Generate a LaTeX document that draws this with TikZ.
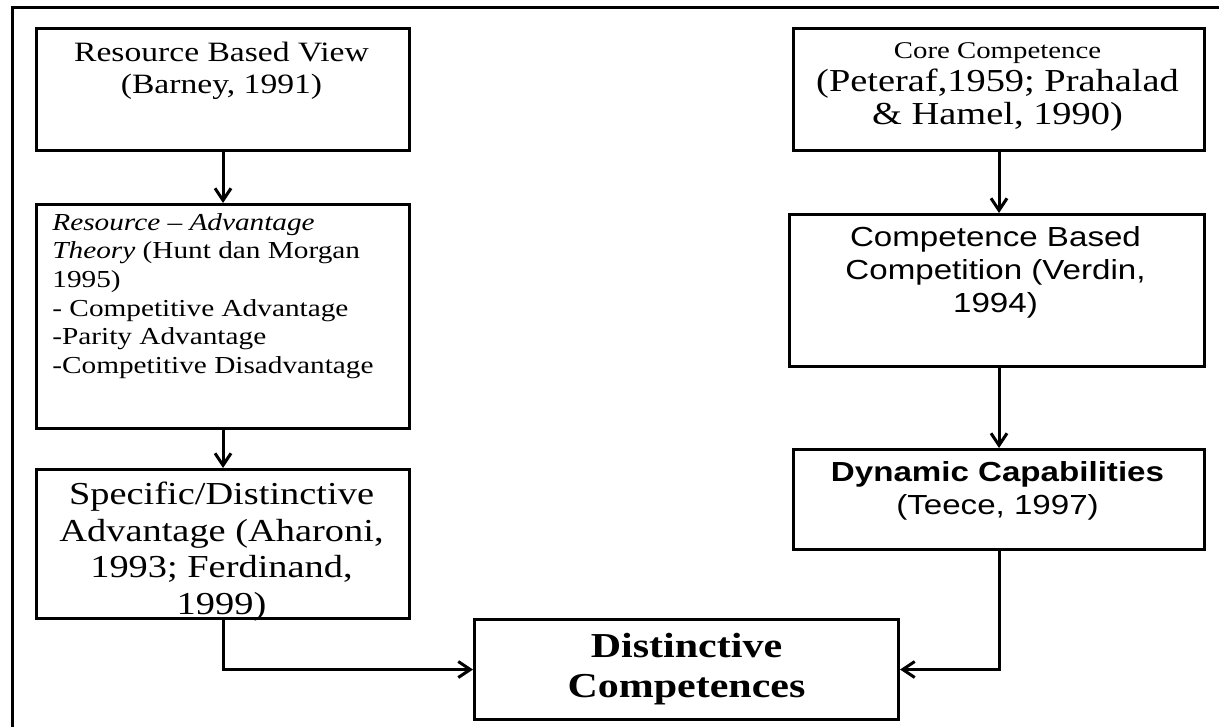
\documentclass[tikz,border=0pt]{standalone}
\usepackage{fontspec}
\setmainfont[FakeStretch=1.2]{Liberation Serif}
\setsansfont[FakeStretch=1.2]{Liberation Sans}
\usetikzlibrary{arrows.meta}
\begin{document}
\begin{tikzpicture}[x=0.5pt,y=-0.5pt,
  box/.style={draw, line width=1.5pt, rectangle, anchor=north west, inner sep=0pt},
  txt/.style={inner sep=0pt, align=center},
  arr/.style={line width=1.5pt, -{Straight Barb[length=6pt,width=8pt]}},
]
\useasboundingbox (0,0) rectangle (1219,727);
\clip (0,0) rectangle (1219,727);
\draw[line width=1.5pt] (12,8) rectangle (1260,760);

% boxes
\node[box, minimum width=186.5pt, minimum height=61pt] (rbv) at (35,27) {};
\node[box, minimum width=186.5pt, minimum height=112pt] (ra) at (35,203) {};
\node[box, minimum width=186.5pt, minimum height=74.5pt] (spec) at (35,468) {};
\node[box, minimum width=205.5pt, minimum height=61pt] (core) at (792,27) {};
\node[box, minimum width=207.5pt, minimum height=76pt] (cbc) at (788,213) {};
\node[box, minimum width=205.5pt, minimum height=50pt] (dyn) at (792,448) {};
\node[box, minimum width=212pt, minimum height=50pt] (dist) at (473,618) {};

% texts
\node[txt, anchor=north, font=\fontsize{14}{16}\selectfont] (rbvt) at (221.5,42)
  {Resource Based View\\(Barney, 1991)};
\node[txt, align=left, anchor=north west, font=\fontsize{12.2}{14.3}\selectfont] (rat) at (52,213)
  {\textit{Resource -- Advantage}\\\textit{Theory} (Hunt dan Morgan\\1995)\\- Competitive Advantage\\-Parity Advantage\\-Competitive Disadvantage};
\node[txt, anchor=north, font=\fontsize{16}{18.25}\selectfont] (spect) at (221.5,482)
  {Specific/Distinctive\\Advantage (Aharoni,\\1993; Ferdinand,\\1999)};
\node[txt, anchor=north, font=\fontsize{16}{16.5}\selectfont] (coret) at (997.5,42)
  {{\fontsize{12}{16.5}\selectfont Core Competence}\\(Peteraf,1959; Prahalad\\\& Hamel, 1990)};
\node[txt, anchor=north, font=\sffamily\fontsize{13.8}{16.5}\selectfont] (cbct) at (995.5,226)
  {Competence Based\\Competition (Verdin,\\1994)};
\node[txt, anchor=north, font=\sffamily\fontsize{13.8}{16.5}\selectfont] (dynt) at (997.5,461)
  {\textbf{Dynamic Capabilities}\\(Teece, 1997)};
\node[txt, font=\bfseries\fontsize{17.5}{20}\selectfont] (distt) at (dist.center)
  {Distinctive\\Competences};

% connectors
\draw[arr] (rbv) -- (ra);
\draw[arr] (ra) -- (spec);
\draw[arr] (core.south) -- (core.south |- cbc.north);
\draw[arr] (dyn.north |- cbc.south) -- (dyn.north);
\draw[arr] (spec.south) |- (dist.west);
\draw[arr] (dyn.south) |- (dist.east);
\end{tikzpicture}
\end{document}
